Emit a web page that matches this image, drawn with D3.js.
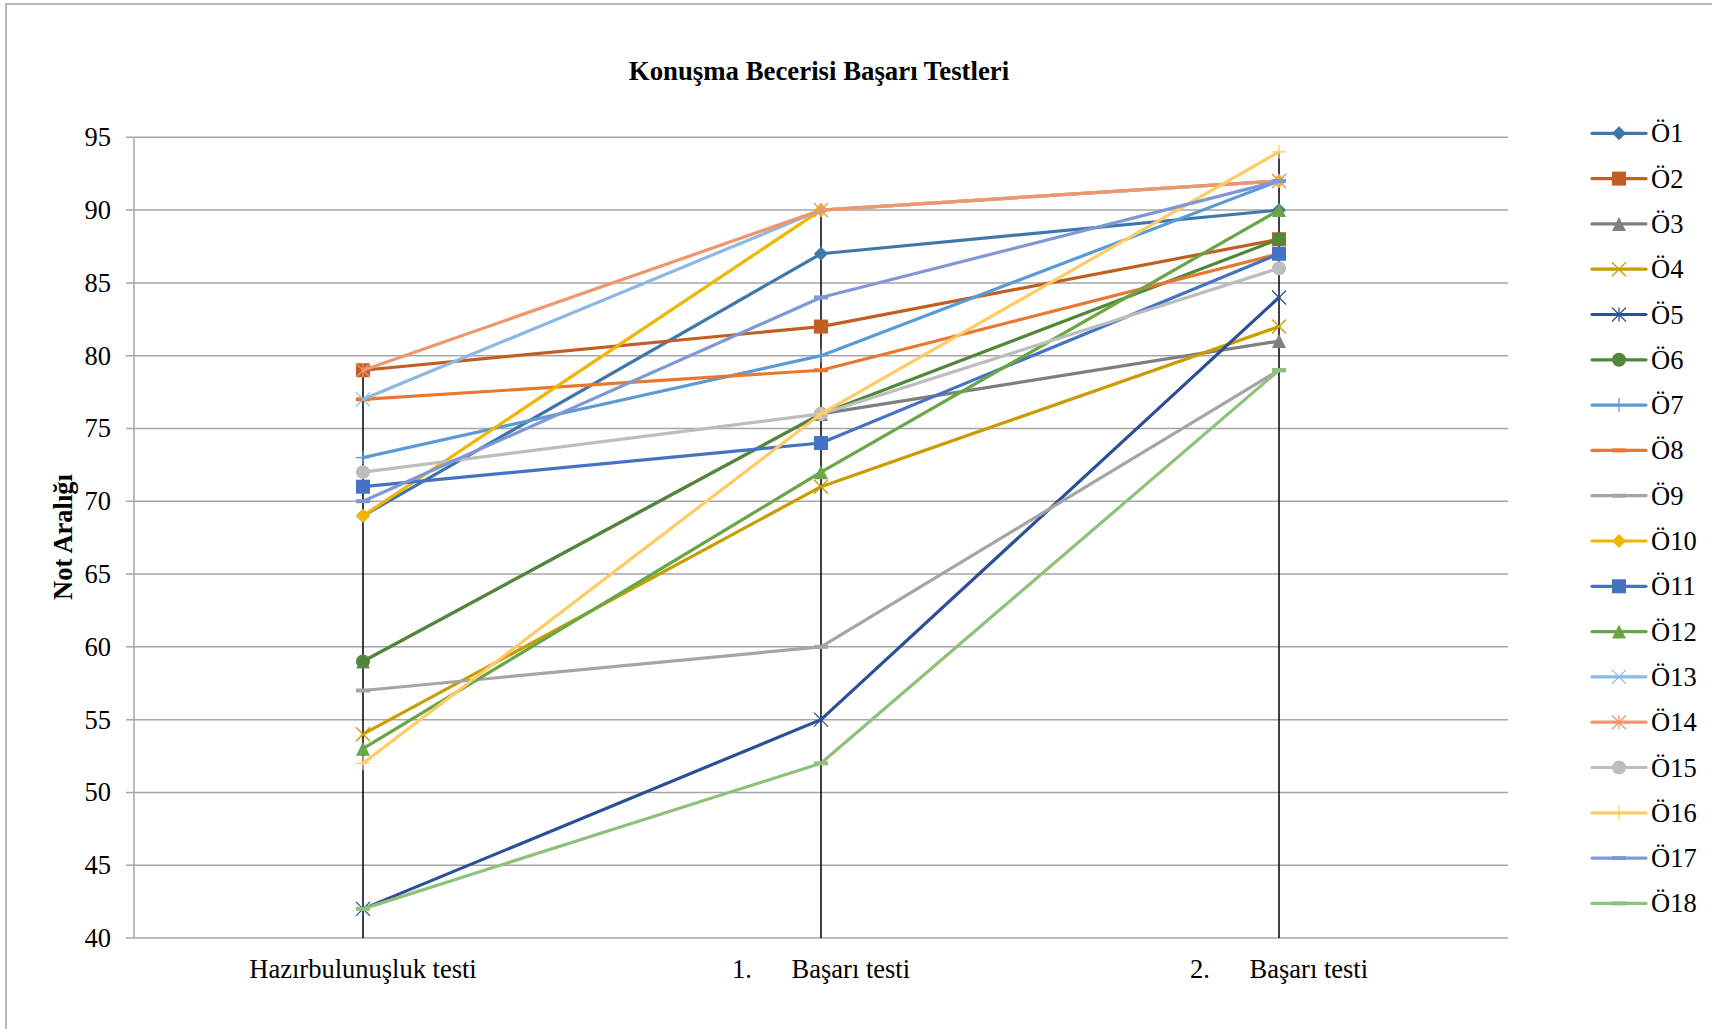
<!DOCTYPE html>
<html>
<head>
<meta charset="utf-8">
<script src="https://cdn.jsdelivr.net/npm/d3@7"></script>
<style>
  html, body { margin: 0; padding: 0; background: #fff; }
  svg { display: block; }
  text { font-family: "Liberation Serif", "Times New Roman", serif; fill: #000; }
</style>
</head>
<body>
<svg id="chart" width="1712" height="1029"></svg>
<script>
// Test stages (x categories)
const categories = ["Hazırbulunuşluk testi", "1.      Başarı testi", "2.      Başarı testi"];
// Student names
const students = ["Ö1","Ö2","Ö3","Ö4","Ö5","Ö6","Ö7","Ö8","Ö9","Ö10","Ö11","Ö12","Ö13","Ö14","Ö15","Ö16","Ö17","Ö18"];
// Scores per student across the three tests
const scores = [
  [69, 87, 90],
  [79, 82, 88],
  [59, 76, 81],
  [54, 71, 82],
  [42, 55, 84],
  [59, 76, 88],
  [73, 80, 92],
  [77, 79, 87],
  [57, 60, 79],
  [69, 90, 92],
  [71, 74, 87],
  [53, 72, 90],
  [77, 90, 92],
  [79, 90, 92],
  [72, 76, 86],
  [52, 76, 94],
  [70, 84, 92],
  [42, 52, 79]
];
const yTicks = [40, 45, 50, 55, 60, 65, 70, 75, 80, 85, 90, 95];

const colors = ["#3f77ab","#c05e24","#7f7f7f","#c99c00","#2c4f95","#52873a","#5b9bd5","#e8782f","#a5a5a5",
                "#f2b600","#4472c4","#68a646","#8cb9e3","#f0966f","#bdbdbd","#ffcb66","#7f98d5","#8fc17a"];
const markers = ["diamond","square","triangle","x","star","circle","plus","dash","dash",
                 "diamond","square","triangle","x","star","circle","plus","dash","dash"];

const svg = d3.select("#chart");
const margin = {left: 134, right: 1508, top: 137.3, bottom: 938};
const fs = 26.5;

// outer frame
svg.append("rect").attr("x", 6).attr("y", 4).attr("width", 1720).attr("height", 1040)
  .attr("fill", "none").attr("stroke", "#a0a0a0").attr("stroke-width", 1.5);

const x = d3.scalePoint().domain(categories).range([margin.left, margin.right]).padding(0.5);
const y = d3.scaleLinear().domain([40, 95]).range([margin.bottom, margin.top]);

// gridlines
svg.append("g").selectAll("line").data(yTicks).join("line")
  .attr("x1", margin.left - 8).attr("x2", margin.right)
  .attr("y1", d => y(d)).attr("y2", d => y(d))
  .attr("stroke", "#a6a6a6").attr("stroke-width", 1.5);

// y axis line
svg.append("line").attr("x1", margin.left).attr("x2", margin.left)
  .attr("y1", margin.top).attr("y2", margin.bottom)
  .attr("stroke", "#a6a6a6").attr("stroke-width", 1.5);

// y tick labels
svg.append("g").selectAll("text").data(yTicks).join("text")
  .attr("x", 111).attr("y", d => y(d) + 9)
  .attr("text-anchor", "end").attr("font-size", fs)
  .text(d => d);

// drop lines from the top value at each test down to the axis
categories.forEach((c, i) => {
  const top = d3.max(scores, s => s[i]);
  svg.append("line").attr("x1", x(c)).attr("x2", x(c))
    .attr("y1", y(top)).attr("y2", margin.bottom)
    .attr("stroke", "#000").attr("stroke-width", 1.5);
});

// x labels
svg.append("g").selectAll("text").data(categories).join("text")
  .attr("x", d => x(d)).attr("y", 978)
  .attr("text-anchor", "middle").attr("font-size", fs)
  .style("white-space", "pre")
  .text(d => d);

// title
svg.append("text").attr("x", 819).attr("y", 80).attr("text-anchor", "middle")
  .attr("font-size", 26.8).attr("font-weight", "bold")
  .text("Konuşma Becerisi Başarı Testleri");

// y axis title
svg.append("text").attr("transform", "translate(72,537) rotate(-90)")
  .attr("text-anchor", "middle").attr("font-size", 26.5).attr("font-weight", "bold")
  .text("Not Aralığı");

function drawMarker(g, type, cx, cy, color) {
  const s = 7;
  if (type === "diamond") {
    g.append("path").attr("d", `M${cx},${cy - s}L${cx + s},${cy}L${cx},${cy + s}L${cx - s},${cy}Z`).attr("fill", color);
  } else if (type === "square") {
    g.append("rect").attr("x", cx - s).attr("y", cy - s).attr("width", 2 * s).attr("height", 2 * s).attr("fill", color);
  } else if (type === "triangle") {
    g.append("path").attr("d", `M${cx},${cy - s}L${cx + s},${cy + s}L${cx - s},${cy + s}Z`).attr("fill", color);
  } else if (type === "circle") {
    g.append("circle").attr("cx", cx).attr("cy", cy).attr("r", s).attr("fill", color);
  } else if (type === "x" || type === "star") {
    const p = `M${cx - s},${cy - s}L${cx + s},${cy + s}M${cx - s},${cy + s}L${cx + s},${cy - s}` +
      (type === "star" ? `M${cx},${cy - s}L${cx},${cy + s}` : "");
    g.append("path").attr("d", p).attr("stroke", color).attr("stroke-width", 1.3).attr("fill", "none");
  } else if (type === "plus") {
    g.append("path").attr("d", `M${cx - s},${cy}L${cx + s},${cy}M${cx},${cy - s}L${cx},${cy + s}`)
      .attr("stroke", color).attr("stroke-width", 1.3).attr("fill", "none");
  } else if (type === "dash") {
    g.append("path").attr("d", `M${cx - s},${cy}L${cx + s},${cy}`)
      .attr("stroke", color).attr("stroke-width", 4).attr("fill", "none");
  }
}

const line = d3.line().x((d, i) => x(categories[i])).y(d => y(d));

// series lines with markers
students.forEach((name, k) => {
  const g = svg.append("g");
  g.append("path").datum(scores[k]).attr("d", line)
    .attr("fill", "none").attr("stroke", colors[k]).attr("stroke-width", 3.2)
    .attr("stroke-linejoin", "round").attr("stroke-linecap", "round");
  scores[k].forEach((v, i) => drawMarker(g, markers[k], x(categories[i]), y(v), colors[k]));
});

// legend
const legend = svg.append("g");
students.forEach((name, k) => {
  const ly = 133.3 + k * 45.3;
  const g = legend.append("g");
  g.append("line").attr("x1", 1592).attr("x2", 1646).attr("y1", ly).attr("y2", ly)
    .attr("stroke", colors[k]).attr("stroke-width", 3.2).attr("stroke-linecap", "round");
  drawMarker(g, markers[k], 1619, ly, colors[k]);
  g.append("text").attr("x", 1651).attr("y", ly + 9).attr("font-size", fs).text(name);
});
</script>
</body>
</html>
